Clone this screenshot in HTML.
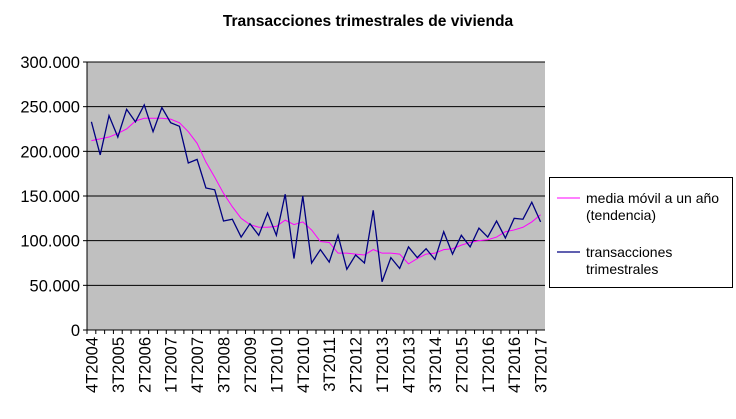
<!DOCTYPE html>
<html><head><meta charset="utf-8"><style>
body{margin:0;background:#fff;font-family:"Liberation Sans",Arial,sans-serif}
</style></head><body>
<svg width="736" height="414" xmlns="http://www.w3.org/2000/svg">
<text x="368" y="26" text-anchor="middle" font-size="15.6" font-weight="bold">Transacciones trimestrales de vivienda</text>
<rect x="87" y="62" width="458" height="268" fill="#c0c0c0"/>
<g id="grid"></g><g id="yt"></g><g id="xt"></g>
<polyline id="ma" fill="none" stroke="#ff00ff" stroke-width="1"/>
<polyline id="tr" fill="none" stroke="#000080" stroke-width="1.3"/>
<line x1="87" y1="62" x2="87" y2="330" stroke="#000"/>
<line x1="87" y1="330" x2="545" y2="330" stroke="#000"/>
<g>
<rect x="549.5" y="177.5" width="183" height="110" fill="#fff" stroke="#000"/>
<line x1="557" y1="198" x2="580" y2="198" stroke="#ff00ff"/>
<text x="586" y="203" font-size="14">media móvil a un año</text>
<text x="586" y="220" font-size="14">(tendencia)</text>
<line x1="557" y1="252" x2="580" y2="252" stroke="#000080" stroke-width="1.3"/>
<text x="586" y="257" font-size="14">transacciones</text>
<text x="586" y="274" font-size="14">trimestrales</text>
</g>
</svg>
<script>
const quarters=[];
for(let y=2004,q=4;quarters.length<52;){quarters.push(q+"T"+y);q++;if(q>4){q=1;y++;}}
const yTicks=[0,50000,100000,150000,200000,250000,300000];
const yLabels=["0","50.000","100.000","150.000","200.000","250.000","300.000"];
const quarterly=[233,196,240,216,247,233,252,222,249,232,228,187,191,159,157,122,124,104,119,106,131,106,152,80,150,75,90,76,106,68,84,75,134,54,81,69,93,81,91,79,110,85,106,93,114,104,122,103,125,124,143,121].map(v=>v*1000);
const movingAvg=[212,214,216,220,225,234,237,237,237,236,232,222,209,188,171,153,138,125,118,115,115,116,123,118,121,112,99,98,86,86,85,84,90,86,86,85,74,80,85,86,90,91,95,98,100,101,104,110,112,115,121,129].map(v=>v*1000);
const X0=87,W=458,Y0=330,H=268,ymax=300000;
const sx=i=>X0+W/quarters.length*(i+0.5);
const sy=v=>Y0-v/ymax*H;
const ns="http://www.w3.org/2000/svg";
const g=document.getElementById('grid'),yt=document.getElementById('yt'),xt=document.getElementById('xt');
yTicks.forEach((t,k)=>{
 if(t>0){const l=document.createElementNS(ns,'line');l.setAttribute('x1',X0);l.setAttribute('x2',X0+W);l.setAttribute('y1',sy(t));l.setAttribute('y2',sy(t));l.setAttribute('stroke','#000');
 
 g.appendChild(l);}
 const tk=document.createElementNS(ns,'line');tk.setAttribute('x1',X0-4);tk.setAttribute('x2',X0);tk.setAttribute('y1',sy(t));tk.setAttribute('y2',sy(t));tk.setAttribute('stroke','#000');yt.appendChild(tk);
 const tx=document.createElementNS(ns,'text');tx.setAttribute('x',X0-7);tx.setAttribute('y',sy(t)+6);tx.setAttribute('text-anchor','end');tx.setAttribute('font-size','16.5');tx.textContent=yLabels[k];
 
 yt.appendChild(tx);
});
quarters.forEach((q,i)=>{
 const bx=X0+W/quarters.length*i;
 const tk=document.createElementNS(ns,'line');tk.setAttribute('x1',bx);tk.setAttribute('x2',bx);tk.setAttribute('y1',Y0);tk.setAttribute('y2',Y0+4);tk.setAttribute('stroke','#000');xt.appendChild(tk);
 if(i%3===0){const tx=document.createElementNS(ns,'text');const x=sx(i)+6,y=Y0+7;
 tx.setAttribute('transform','translate('+x+','+y+') rotate(-90)');tx.setAttribute('text-anchor','end');tx.setAttribute('font-size','16.5');tx.textContent=q;
 
 xt.appendChild(tx);}
});
document.getElementById('tr').setAttribute('points',quarterly.map((v,i)=>sx(i)+','+sy(v)).join(' '));
document.getElementById('ma').setAttribute('points',movingAvg.map((v,i)=>sx(i)+','+sy(v)).join(' '));
</script>
</body></html>
